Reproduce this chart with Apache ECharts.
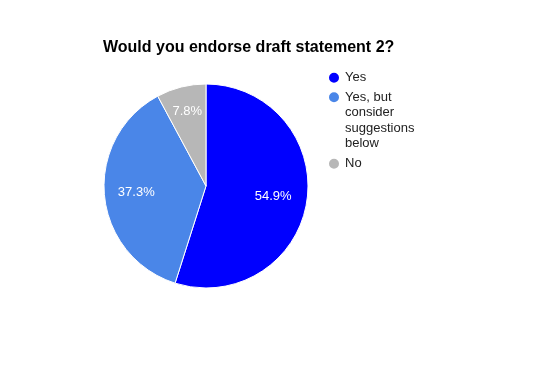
<!DOCTYPE html>
<html>
<head>
<meta charset="utf-8">
<script src="https://cdn.jsdelivr.net/npm/echarts@6/dist/echarts.min.js"></script>
<style>html,body{margin:0;padding:0;background:#fff}#c{width:537px;height:371px}</style>
</head>
<body>
<div id="c"></div>
<script>
var titleText = 'Would you endorse draft statement 2?';
var categories = ['Yes', 'Yes, but consider suggestions below', 'No'];
var legendLabels = ['Yes', 'Yes, but\nconsider\nsuggestions\nbelow', 'No'];
var counts = [28, 19, 4];
var percentLabels = ['54.9%', '37.3%', '7.8%'];
var colors = ['#0000ff', '#4a86e8', '#b7b7b7'];

var FONT = '"Liberation Sans", Arial, sans-serif';
var chart = echarts.init(document.getElementById('c'), null, {renderer: 'canvas'});

var data = categories.map(function (n, i) {
  return {name: n, value: counts[i], itemStyle: {color: colors[i]}};
});

// label overlay pies (transparent), each showing one label at a chosen radius
var labelRadii = [130, 134, 148];
var overlays = labelRadii.map(function (r, k) {
  return {
    type: 'pie', silent: true, center: [206, 186], radius: [0, r],
    startAngle: 90, clockwise: true, animation: false,
    itemStyle: {color: 'rgba(0,0,0,0)', borderWidth: 0},
    emphasis: {disabled: true},
    labelLine: {show: false},
    data: categories.map(function (n, i) {
      return {
        name: n, value: counts[i],
        itemStyle: {color: 'rgba(0,0,0,0)'},
        label: {show: i === k, position: 'inside', color: '#ffffff',
          fontFamily: FONT, fontSize: 13,
          formatter: function () { return percentLabels[i]; }}
      };
    })
  };
});

function mkLegend(i, top) {
  var lines = legendLabels[i].split('\n');
  var pad = '';
  for (var k = 1; k < lines.length; k++) pad += '\n';
  return {
    orient: 'vertical', left: 327, top: top, padding: 0,
    icon: 'circle', itemWidth: 12, itemHeight: 12, itemGap: 0,
    data: [categories[i]],
    formatter: function () { return pad + legendLabels[i]; },
    textStyle: {color: '#222222', fontFamily: FONT, fontSize: 13, lineHeight: 15.5}
  };
}

chart.setOption({
  animation: false,
  backgroundColor: '#ffffff',
  title: {
    text: titleText, left: 103, top: 40, padding: 0,
    textStyle: {fontFamily: FONT, fontSize: 16, fontWeight: 'bold', color: '#000000'}
  },
  legend: [
    mkLegend(0, 70),
    mkLegend(1, 43),
    mkLegend(2, 156)
  ],
  series: [{
    type: 'pie', center: [206, 186], radius: [0, 102],
    startAngle: 90, clockwise: true, animation: false,
    itemStyle: {borderColor: '#ffffff', borderWidth: 1},
    emphasis: {disabled: true},
    label: {show: false}, labelLine: {show: false},
    data: data
  }].concat(overlays)
});
</script>
</body>
</html>
